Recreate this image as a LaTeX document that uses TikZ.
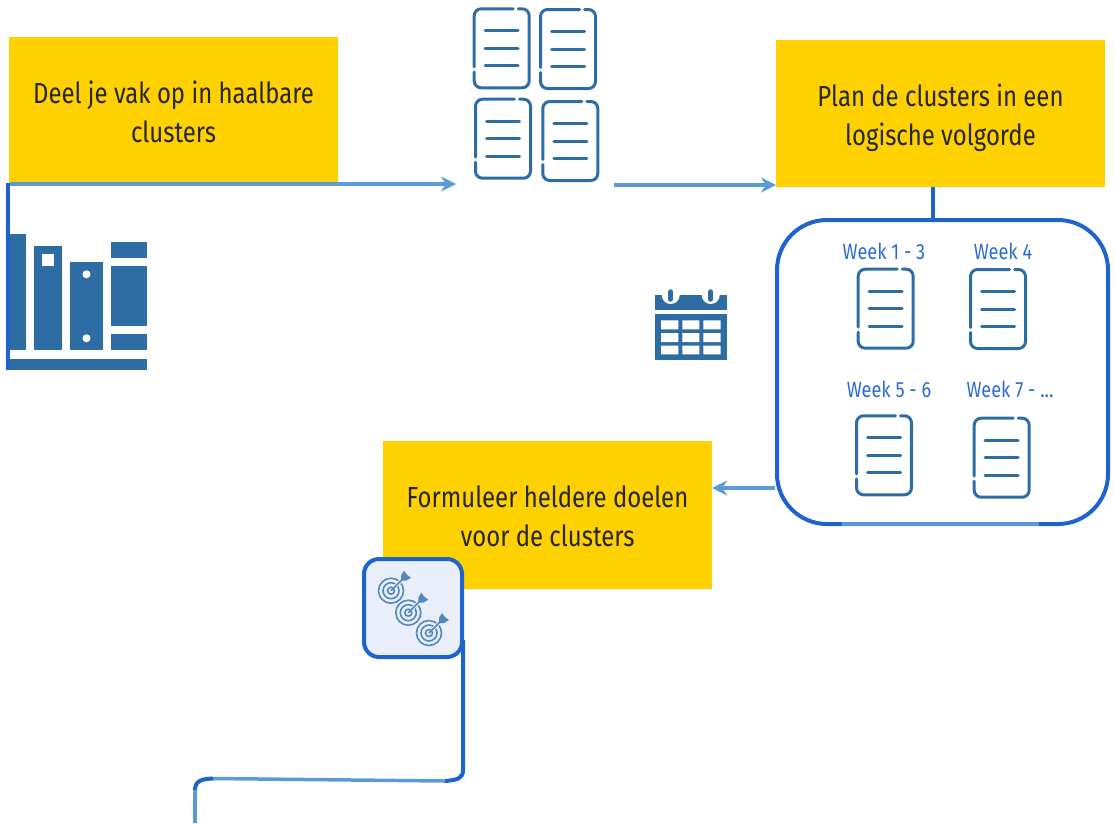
\documentclass[tikz,border=0pt]{standalone}
\usepackage{fontspec}
\setmainfont[FakeStretch=0.825]{Fira Sans}
\usepackage{xcolor}
\usetikzlibrary{arrows.meta}
\definecolor{clusteryellow}{HTML}{FFD100}
\definecolor{linedark}{HTML}{1F64CC}
\definecolor{linelight}{HTML}{5B9BD5}
\definecolor{iconblue}{HTML}{2E6DA4}
\definecolor{targetblue}{HTML}{5288BC}
\definecolor{targetfill}{HTML}{E8EFFB}
\definecolor{weekblue}{HTML}{2B6CD0}
\newcommand{\steptext}[2]{\parbox{329pt}{\centering\vspace*{#1}#2}}
\tikzset{
  stepbox/.style={fill=clusteryellow,minimum width=329pt,font=\fontsize{29}{39}\selectfont,text=black!85,inner sep=0pt},
  weeklabel/.style={text=weekblue,font=\fontsize{22}{24}\selectfont,inner sep=0pt},
  darkline/.style={draw=linedark,line width=4pt},
  lightline/.style={draw=linelight,line width=3.5pt},
  lightarrow/.style={lightline,-{Stealth[length=15pt,width=15pt,inset=5pt]}},
  docpic/.pic={
    \draw[iconblue,line width=3pt,line cap=round,rounded corners=7pt]
      (40.5,1.5) -- (1.5,1.5) -- (1.5,59.5) (1.5,64.5) -- (1.5,80.5) -- (56.5,80.5) -- (56.5,1.5) -- (45.5,1.5);
    \draw[iconblue,line width=3pt,line cap=round] (12.5,23.3) -- (45.5,23.3) (12.5,41) -- (45.5,41) (12.5,58.6) -- (45.5,58.6);
  },
  targetpic/.pic={
    \draw[targetblue,line width=1.6pt] (0,0) circle (12.5pt) (0,0) circle (8pt) (0,0) circle (3.5pt);
    \draw[targetfill,line width=3.5pt] (3,-3) -- (13,-13);
    \draw[targetblue,line width=1.6pt] (0,0) -- (12,-12);
    \fill[targetblue] (10,-10) -- (10,-15) -- (13,-20) -- (16,-16) -- (20,-13) -- (15,-10) -- cycle;
  }
}
\begin{document}
\begin{tikzpicture}[x=1pt,y=-1pt]
\useasboundingbox (0,0) rectangle (1114,823);
%%%%%%%%%%%%%%%%
\node[stepbox,minimum height=146pt] (deel) at (173.5,110) {\steptext{4pt}{Deel je vak op in haalbare\\clusters}};
\node[stepbox,minimum height=147pt] (plan) at (940.5,113.5) {\steptext{9pt}{Plan de clusters in een\\logische volgorde}};
\node[stepbox,minimum height=148pt] (doelen) at (547.5,515) {\steptext{2pt}{Formuleer heldere doelen\\voor de clusters}};
%%%%%%%%%%%%%%%%
% books
\fill[iconblue] (10,234) rectangle (26,350);
\fill[iconblue] (34.3,246.3) rectangle (62.3,350);
\fill[white] (42.3,254.3) rectangle (54.3,266.3);
\fill[iconblue] (70.3,262.3) rectangle (102.7,350);
\fill[white] (86.5,274.3) circle (4pt) (86.5,338.3) circle (4pt);
\fill[iconblue] (110.7,242) rectangle (146.7,258);
\fill[iconblue] (110.7,266.3) rectangle (146.7,326);
\fill[iconblue] (110.7,334.3) rectangle (146.7,350);
\fill[iconblue] (10,358.7) rectangle (146.7,370.3);
%%%%%%%%%%%%%%%%
\coordinate (stackleft) at (456,184);
\coordinate (stackright) at (614,185);
\coordinate (planleft) at (776,185);
\coordinate (shelfend) at (7.8,370);
\coordinate (deelcorner) at (7.8,183);
\draw[darkline] (deelcorner) -- (shelfend);
\draw[lightarrow] (10,184) -- (stackleft);
\draw[lightarrow] (stackright) -- (planleft);
%%%%%%%%%%%%%%%%
% four clusters
\pic (clustera) at (472.7,7.3) {docpic};
\pic (clusterb) at (539,8) {docpic};
\pic (clusterc) at (474,97.7) {docpic};
\pic (clusterd) at (541.3,100) {docpic};
%%%%%%%%%%%%%%%%
% calendar
\fill[iconblue] (655,295) rectangle (726.7,310);
\fill[iconblue] (655,314.3) rectangle (726.7,360);
\fill[white] (670.7,295) circle (9pt) (710.7,295) circle (9pt);
\draw[iconblue,line width=5.5pt,line cap=round] (670.7,292) -- (670.7,299) (710.7,292) -- (710.7,299);
\fill[white] (661,320.3) rectangle (678.3,329.3) (682.3,320.3) rectangle (699.3,329.3) (703.3,320.3) rectangle (720.7,329.3);
\fill[white] (661,333) rectangle (678.3,342) (682.3,333) rectangle (699.3,342) (703.3,333) rectangle (720.7,342);
\fill[white] (661,345.7) rectangle (678.3,354.3) (682.3,345.7) rectangle (699.3,354.3) (703.3,345.7) rectangle (720.7,354.3);
%%%%%%%%%%%%%%%%
% weeks
\node[draw=linedark,line width=4pt,rounded corners=50pt,minimum width=331pt,minimum height=304pt,inner sep=0pt] (weeks) at (942.5,372) {};
\draw[darkline] (plan.south -| 933,0) -- (933,220);
\draw[lightline] (842,524) -- (1039,524);
\draw[lightarrow] (weeks.west |- 0,488) -- (doelen.east |- 0,488);
\node[weeklabel] (weeka) at (884,251) {Week 1 - 3};
\node[weeklabel] (weekb) at (1003,251) {Week 4};
\node[weeklabel] (weekc) at (889,389) {Week 5 - 6};
\node[weeklabel] (weekd) at (1010,389) {Week 7 - ...};
\pic (doca) at (856.7,267.7) {docpic};
\pic (docb) at (969,268) {docpic};
\pic (docc) at (855,414.3) {docpic};
\pic (docd) at (972.7,416.7) {docpic};
%%%%%%%%%%%%%%%%
% targets
\node[draw=linedark,fill=targetfill,line width=4pt,rounded corners=15pt,minimum width=98pt,minimum height=98pt,inner sep=0pt] (goal) at (413,608) {};
\pic (targeta) at (391,590.7) {targetpic};
\pic (targetb) at (408.3,612.7) {targetpic};
\pic (targetc) at (429,633) {targetpic};
%%%%%%%%%%%%%%%%
\coordinate (exitright) at (463,770);
\coordinate (bendright) at (445,781);
\coordinate (bendleft) at (213,778.5);
\coordinate (exitleft) at (195,790);
\coordinate (pageend) at (195,823);
\draw[darkline] (463,640) -- (exitright) .. controls (463,778) and (458,780) .. (bendright);
\draw[lightline] (bendright) -- (bendleft);
\draw[darkline] (bendleft) .. controls (203,779) and (195,780) .. (exitleft);
\draw[lightline] (exitleft) -- (pageend);
\end{tikzpicture}
\end{document}
